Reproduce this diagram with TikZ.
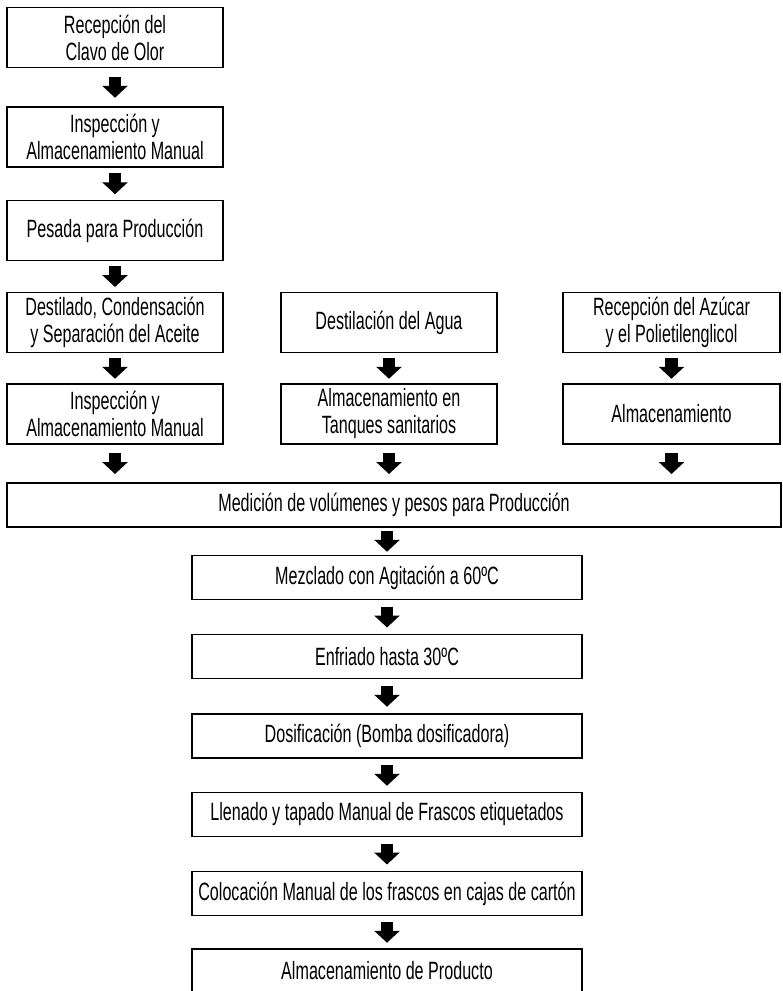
\documentclass[tikz,border=0pt]{standalone}
\usepackage{fontspec}
\setmainfont{Liberation Sans}[FakeStretch=0.645]
\usetikzlibrary{arrows.meta,calc}

\tikzset{
  caja/.style={draw=black, line width=1.3pt, inner sep=0pt, align=center,
    font=\fontsize{25}{27}\selectfont},
  alta/.style={caja, minimum width=216pt, minimum height=60pt},
  baja/.style={caja, minimum width=390pt, minimum height=44pt},
  flecha/.style={line width=12.5pt, -{Triangle[width=25pt,length=12pt]}}
}

% flecha de bloque centrada en el hueco entre dos cajas
\newcommand{\flecha}[2]{%
  \path ($(#1.south)!0.5!(#2.north)$) coordinate (m);
  \draw[flecha] ($(m -| #1.south)+(0,-10.5)$) -- ++(0,21);}

\begin{document}
\begin{tikzpicture}[x=1pt,y=-1pt]
  \useasboundingbox (0,0) rectangle (783,991);
  % columna izquierda
  \node[alta] (recepcion) at (115,37.5) {Recepción del\\Clavo de Olor};
  \node[alta] (inspeccion) at (115,137) {Inspección y\\Almacenamiento Manual};
  \node[alta] (pesada) at (115,230.5) {Pesada para Producción};
  \node[alta] (destilado) at (115,322.5) {Destilado, Condensación\\y Separación del Aceite};
  \node[alta] (inspeccionb) at (115,414) {Inspección y\\Almacenamiento Manual};
  % columna central
  \node[alta] (agua) at (389,322.5) {Destilación del Agua};
  \node[alta] (tanques) at (389,414) {Almacenamiento en\\Tanques sanitarios};
  % columna derecha
  \node[alta, minimum width=217pt] (azucar) at (671.5,322.5) {Recepción del Azúcar\\y el Polietilenglicol};
  \node[alta, minimum width=217pt] (almac) at (671.5,414) {Almacenamiento};
  % linea comun
  \node[caja, minimum width=774pt, minimum height=44pt] (medicion) at (394,505) {Medición de volúmenes y pesos para Producción};
  \node[baja] (mezclado) at (387,577.5) {Mezclado con Agitación a 60ºC};
  \node[baja] (enfriado) at (387,656.5) {Enfriado hasta 30ºC};
  \node[baja] (dosif) at (387,736) {Dosificación (Bomba dosificadora)};
  \node[baja] (llenado) at (387,814.5) {Llenado y tapado Manual de Frascos etiquetados};
  \node[baja] (colocacion) at (387,893.5) {Colocación Manual de los frascos en cajas de cartón};
  \node[baja] (producto) at (387,971) {Almacenamiento de Producto};

  \flecha{recepcion}{inspeccion}
  \flecha{inspeccion}{pesada}
  \flecha{pesada}{destilado}
  \flecha{destilado}{inspeccionb}
  \flecha{agua}{tanques}
  \flecha{azucar}{almac}
  \flecha{inspeccionb}{medicion}
  \flecha{tanques}{medicion}
  \flecha{almac}{medicion}
  \path ($(medicion.south)!0.5!(mezclado.north)$) coordinate (m);
  \draw[flecha] ($(m -| mezclado.north)+(0,-10.5)$) -- ++(0,21);
  \flecha{mezclado}{enfriado}
  \flecha{enfriado}{dosif}
  \flecha{dosif}{llenado}
  \flecha{llenado}{colocacion}
  \flecha{colocacion}{producto}
\end{tikzpicture}
\end{document}
